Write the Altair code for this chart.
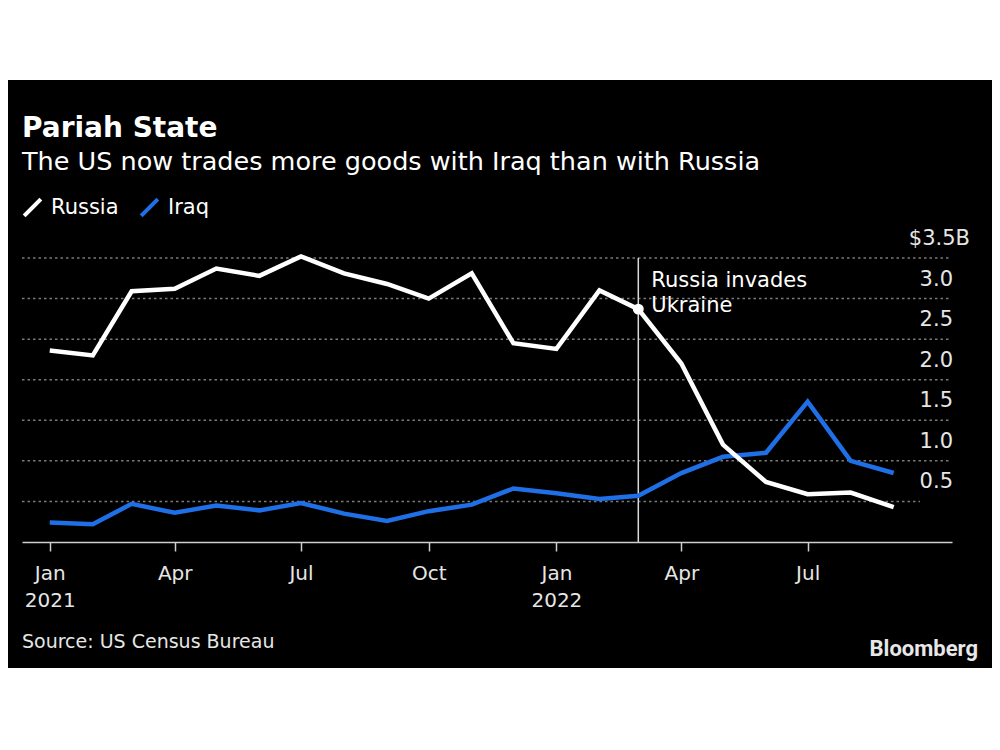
import altair as alt
import pandas as pd

# ---- data ----
months = pd.date_range("2021-01-01", "2022-09-01", freq="MS").strftime("%Y-%m-%d").tolist()
russia = [2.36, 2.30, 3.09, 3.12, 3.37, 3.28, 3.52, 3.31, 3.18, 3.00, 3.31, 2.45,
          2.38, 3.10, 2.87, 2.20, 1.20, 0.74, 0.59, 0.61, 0.43]
iraq = [0.24, 0.22, 0.47, 0.36, 0.45, 0.39, 0.48, 0.35, 0.26, 0.38, 0.46, 0.66,
        0.60, 0.53, 0.57, 0.85, 1.05, 1.10, 1.73, 1.00, 0.85]
series_names = ["Russia", "Iraq"]
series_colors = ["#ffffff", "#1f6fe6"]
y_tick_values = [0.5, 1.0, 1.5, 2.0, 2.5, 3.0]
y_tick_labels = ["0.5", "1.0", "1.5", "2.0", "2.5", "3.0"]
grid_values = [0.5, 1.0, 1.5, 2.0, 2.5, 3.0, 3.5]
top_label = "$3.5B"
event_date = "2022-03-01"
event_text = ["Russia invades", "Ukraine"]
title_text = "Pariah State"
subtitle_text = "The US now trades more goods with Iraq than with Russia"
source_text = "Source: US Census Bureau"
brand_text = "Bloomberg"

FONT = "DejaVu Sans"
W, H = 930, 284
PAD_L, PAD_T, PAD_R, PAD_B = 14, 250, 40, 126
BG = "#000000"

long_df = pd.DataFrame(
    {"date": months * 2,
     "value": iraq + russia,
     "series": ["Iraq"] * len(months) + ["Russia"] * len(months)}
)

x_scale = alt.Scale(type="utc",
                    domain=[alt.DateTime(year=2020, month=12, date=12, utc=True),
                            alt.DateTime(year=2022, month=10, date=13, utc=True)])
y_scale = alt.Scale(domain=[0, 3.5], nice=False, zero=True)

tick_dates = [alt.DateTime(year=y, month=m, date=1, utc=True)
              for (y, m) in [(2021, 1), (2021, 4), (2021, 7), (2021, 10), (2022, 1), (2022, 4), (2022, 7)]]

one = pd.DataFrame({"k": [0]})

background = alt.Chart(one).mark_rect(color=BG).encode(
    x=alt.value(-PAD_L), x2=alt.value(W + PAD_R), y=alt.value(-178), y2=alt.value(H + PAD_B)
)

grid_df = pd.DataFrame({"v": grid_values})
grid_long = alt.Chart(grid_df).transform_filter("datum.v > 0.5").mark_rule(
    color="#7a7a7a", strokeWidth=1.5, strokeDash=[2.5, 3]).encode(
    y=alt.Y("v:Q", scale=y_scale, axis=None), x=alt.value(0), x2=alt.value(W - 2)
)
grid_short = alt.Chart(grid_df).transform_filter("datum.v <= 0.5").mark_rule(
    color="#7a7a7a", strokeWidth=1.5, strokeDash=[2.5, 3]).encode(
    y=alt.Y("v:Q", scale=y_scale, axis=None), x=alt.value(0), x2=alt.value(W - 32)
)

ylab_df = pd.DataFrame({"v": y_tick_values, "t": y_tick_labels})
ylabels = alt.Chart(ylab_df).mark_text(align="right", baseline="alphabetic", dy=-13,
                                       fontSize=21, font=FONT, color="#e6e6e6").encode(
    y=alt.Y("v:Q", scale=y_scale, axis=None), x=alt.value(W + 1), text="t:N"
)
toplab = alt.Chart(pd.DataFrame({"v": [3.5], "t": [top_label]})).mark_text(
    align="right", baseline="alphabetic", dy=-13, fontSize=21, font=FONT, color="#e6e6e6").encode(
    y=alt.Y("v:Q", scale=y_scale, axis=None), x=alt.value(W + 18), text="t:N"
)

ev_df = pd.DataFrame({"date": [event_date], "top": [3.5], "bot": [0.0]})
event_rule = alt.Chart(ev_df).mark_rule(color="#d9d9d9", strokeWidth=1.5).encode(
    x=alt.X("date:T", scale=x_scale),
    y=alt.Y("top:Q", scale=y_scale, axis=None), y2="bot:Q"
)
ev_text_df = pd.DataFrame({"date": [event_date], "t": [event_text]})
event_label = alt.Chart(ev_text_df).mark_text(align="left", baseline="alphabetic", dx=13,
                                              fontSize=21, font=FONT, color="#ffffff",
                                              lineHeight=25).encode(
    x=alt.X("date:T", scale=x_scale), y=alt.value(29), text="t"
)

x_axis = alt.Axis(values=tick_dates, title=None, grid=False, zindex=2,
                  domainColor="#cfcfcf", domainWidth=1.5,
                  tickColor="#cfcfcf", tickWidth=1.5, tickSize=9,
                  labelColor="#e6e6e6", labelFontSize=20, labelFont=FONT,
                  labelPadding=28, labelBaseline="alphabetic", labelLineHeight=27,
                  labelFlush=False, labelOverlap=False, labelAlign="center",
                  labelExpr="utcmonth(datum.value) == 0 ? [utcFormat(datum.value, '%b'), utcFormat(datum.value, '%Y')] : utcFormat(datum.value, '%b')")

lines = alt.Chart(long_df).mark_line(strokeWidth=4.5).encode(
    x=alt.X("date:T", scale=x_scale, axis=x_axis),
    y=alt.Y("value:Q", scale=y_scale, axis=None),
    color=alt.Color("series:N",
                    scale=alt.Scale(domain=series_names, range=series_colors),
                    legend=alt.Legend(orient="none", legendX=0, legendY=-61, direction="horizontal",
                                      title=None, symbolType="M-1,1L1,-1", symbolSize=280,
                                      symbolStrokeWidth=4, labelFontSize=21, labelFont=FONT,
                                      labelColor="#ffffff", labelOffset=8, columnPadding=14)),
    detail="series:N",
)

marker_df = pd.DataFrame({"date": [event_date], "value": [russia[months.index(event_date)]]})
marker = alt.Chart(marker_df).mark_point(filled=True, color="#ffffff", size=120, opacity=1).encode(
    x=alt.X("date:T", scale=x_scale), y=alt.Y("value:Q", scale=y_scale, axis=None)
)

def label(txt, x, y, size, weight="normal", align="left", color="#ffffff", font=FONT):
    return alt.Chart(pd.DataFrame({"t": [txt]})).mark_text(
        align=align, baseline="alphabetic", fontSize=size, fontWeight=weight, font=font, color=color
    ).encode(x=alt.value(x), y=alt.value(y), text="t:N")

title = label(title_text, 0, -121, 28, "bold")
subtitle = label(subtitle_text, 0, -88, 25.5)
source = label(source_text, 0, 390, 19, color="#e6e6e6")
brand = label(brand_text, 956, 398, 22, "bold", align="right", color="#e8e8e8", font="Roboto")

chart = alt.layer(
    background, grid_long, grid_short, event_rule, lines, marker, ylabels, toplab, event_label,
    title, subtitle, source, brand
).properties(
    width=W, height=H,
    autosize=alt.AutoSizeParams(type="none"),
    padding={"left": PAD_L, "top": PAD_T, "right": PAD_R, "bottom": PAD_B},
).configure(background="#ffffff").configure_view(stroke=None)

chart.save("out.html", embed_options={"renderer": "svg", "actions": False})
